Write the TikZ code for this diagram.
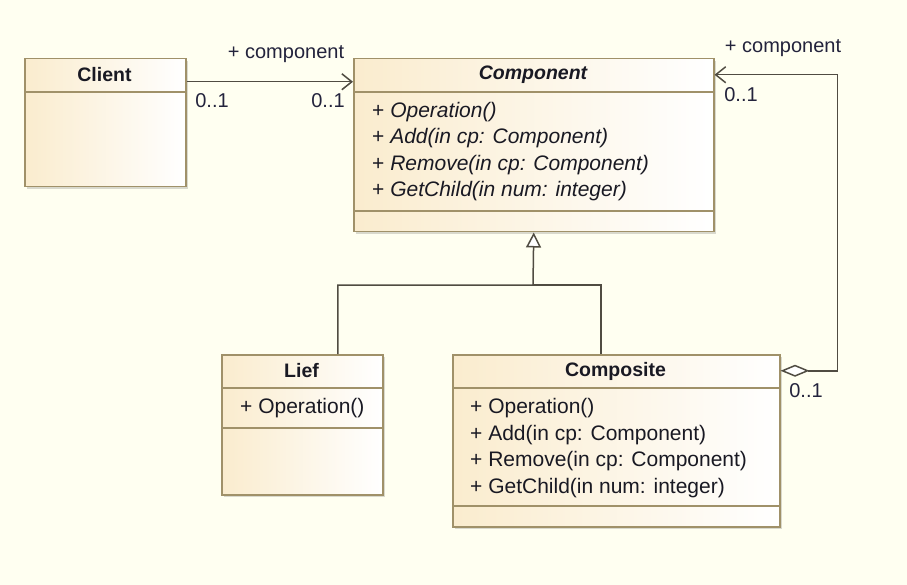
\documentclass[tikz,border=0pt]{standalone}
\usepackage{fontspec}
\setmainfont{Liberation Sans}
\usetikzlibrary{arrows.meta,shadows}
\definecolor{bgcream}{RGB}{255,255,241}
\definecolor{boxline}{RGB}{160,145,105}
\definecolor{boxfill}{RGB}{250,236,206}
\definecolor{wire}{RGB}{80,76,66}
\definecolor{ink}{RGB}{25,25,35}
\definecolor{multink}{RGB}{35,35,60}
\tikzset{
  classbox/.style={draw=boxline,line width=1.5pt,left color=boxfill,right color=white,
    inner sep=0pt,anchor=north west,
    drop shadow={shadow xshift=2pt,shadow yshift=-2pt,fill=black,opacity=0.15}},
  divider/.style={draw=boxline,line width=1.5pt},
  classname/.style={font=\fontsize{19.5}{24}\selectfont\bfseries,text=ink},
  opline/.style={anchor=west,font=\fontsize{21}{25}\selectfont,text=ink,inner sep=0pt,
    text height=15pt,text depth=4pt},
  rolelabel/.style={font=\fontsize{20}{24}\selectfont,text=multink,inner sep=0pt},
  assoc/.style={draw=wire,line width=1.5pt},
  navtip/.style={-{Straight Barb[length=10pt,width=16pt]}},
  inherit/.style={draw=wire,line width=1.5pt}
}
\begin{document}
\begin{tikzpicture}[x=1pt,y=-1pt]
\fill[bgcream] (0,0) rectangle (907,585);

% class boxes
\node[classbox,minimum width=161pt,minimum height=128pt] (Client) at (24,58) {};
\node[classbox,minimum width=360pt,minimum height=173pt] (Component) at (353,58) {};
\node[classbox,minimum width=161pt,minimum height=140pt] (Lief) at (221,354) {};
\node[classbox,minimum width=327pt,minimum height=172pt] (Composite) at (452,354) {};

\foreach \l/\r/\y in {24/185/92,353/713/92,353/713/211,221/382/388,221/382/428,452/779/388,452/779/506}
\draw[divider] (\l,\y) -- (\r,\y);

% names
\node[classname] (ClientName) at (104.5,75) {Client};
\node[classname] (ComponentName) at (533,75) {\itshape Component};
\node[classname] (LiefName) at (301.5,371) {Lief};
\node[classname] (CompositeName) at (615.5,371) {Composite};

% operations
\node[opline] (ComponentOpA) at (372,112) {+ \textit{Operation()}};
\node[opline] (ComponentOpB) at (372,138.5) {+ \textit{Add(in cp: Component)}};
\node[opline] (ComponentOpC) at (372,165) {+ \textit{Remove(in cp: Component)}};
\node[opline] (ComponentOpD) at (372,191.5) {+ \textit{GetChild(in num: integer)}};
\node[opline] (LiefOpA) at (240,408) {+ Operation()};
\node[opline] (CompositeOpA) at (470,408) {+ Operation()};
\node[opline] (CompositeOpB) at (470,434.5) {+ Add(in cp: Component)};
\node[opline] (CompositeOpC) at (470,461) {+ Remove(in cp: Component)};
\node[opline] (CompositeOpD) at (470,487.5) {+ GetChild(in num: integer)};

% associations
\draw[assoc,navtip] ([yshift=41pt]Client.east) -- ([yshift=63.5pt]Component.west);
\draw[assoc,{Diamond[fill=white,length=29pt,width=12pt]}-{Straight Barb[length=10pt,width=16pt]}]
  ([yshift=70pt]Composite.east) -- ++(57,0) |- ([yshift=70.5pt]Component.east);

\node[rolelabel] (ClientRole) at (286,54) {+ component};
\node[rolelabel] (ClientMultA) at (212,101) {0..1};
\node[rolelabel] (ClientMultB) at (328,101) {0..1};
\node[rolelabel] (SelfRole) at (783,48) {+ component};
\node[rolelabel] (SelfMultA) at (741,95) {0..1};
\node[rolelabel] (SelfMultB) at (806,391) {0..1};

% generalization
\coordinate (branch) at (533,285);
\draw[inherit,-{Triangle[open,fill=white,length=15pt,width=15pt]}]
  ([xshift=35.5pt]Lief.north) |- (branch) -- (Component.south);
\draw[inherit] ([xshift=-15.5pt]Composite.north) |- (branch);
\end{tikzpicture}
\end{document}
